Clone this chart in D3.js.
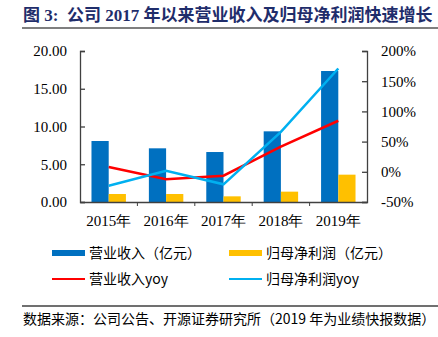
<!DOCTYPE html>
<html><head><meta charset="utf-8">
<script src="https://cdn.jsdelivr.net/npm/d3@7/dist/d3.min.js"></script>
<style>
body{margin:0;background:#fff;}
svg{display:block;}
</style></head>
<body>
<svg id="c" width="438" height="337"></svg>
<script>
const years = ["2015年","2016年","2017年","2018年","2019年"];
const revenue = [8.08, 7.11, 6.62, 9.36, 17.35];
const profit = [1.06, 1.06, 0.75, 1.37, 3.62];
const revenueYoy = [7.9, -12.4, -6.4, 41.5, 84.5];
const profitYoy = [-23.0, 1.8, -20.7, 66.0, 171.0];
const leftTicks = [0, 5, 10, 15, 20];
const rightTicks = [-50, 0, 50, 100, 150, 200];
const seriesNames = ["营业收入（亿元）","归母净利润（亿元）","营业收入yoy","归母净利润yoy"];
const title = "图 3:  公司 2017 年以来营业收入及归母净利润快速增长";
const source = "数据来源：公司公告、开源证券研究所（2019 年为业绩快报数据）";

const colors = {rev:"#0070C0", prof:"#FFC000", revY:"#FF0000", profY:"#00B0F0"};
const serif = "'Liberation Serif','Times New Roman',serif";
const cjk = "'Noto Sans CJK SC','Liberation Serif',serif";
const axisColor = "#404040";

const svg = d3.select("#c");

// title
svg.append("text").attr("x",23).attr("y",21)
  .style("white-space","pre")
  .attr("font-family","'Liberation Serif','Noto Sans CJK SC',serif")
  .attr("font-weight","bold").attr("font-size",17).attr("fill","#1F2D6B")
  .text(title);
svg.append("line").attr("x1",22).attr("x2",438).attr("y1",28).attr("y2",28)
  .attr("stroke","#7f7f7f").attr("stroke-width",2);

const L = 80, R = 367, T = 51, B = 202;
const x = d3.scaleBand().domain(years).range([L,R]).paddingInner(0.4).paddingOuter(0.2);
const xs = d3.scaleBand().domain(["rev","prof"]).range([0,x.bandwidth()]);
const yL = d3.scaleLinear().domain([0,20]).range([B,T]);
const yR = d3.scaleLinear().domain([-50,200]).range([B,T]);

// bars
const g = svg.append("g");
g.selectAll(".rb").data(revenue).join("rect")
  .attr("x",(d,i)=>x(years[i])+xs("rev")).attr("width",xs.bandwidth())
  .attr("y",d=>yL(d)).attr("height",d=>yL(0)-yL(d)).attr("fill",colors.rev);
g.selectAll(".pb").data(profit).join("rect")
  .attr("x",(d,i)=>x(years[i])+xs("prof")).attr("width",xs.bandwidth())
  .attr("y",d=>yL(d)).attr("height",d=>yL(0)-yL(d)).attr("fill",colors.prof);

// axes
const la = svg.append("g").attr("transform",`translate(${L},0)`)
  .call(d3.axisLeft(yL).tickValues(leftTicks).tickFormat(d3.format(".2f")).tickSize(-5).tickPadding(13));
const ra = svg.append("g").attr("transform",`translate(${R},0)`)
  .call(d3.axisRight(yR).tickValues(rightTicks).tickFormat(d=>d+"%").tickSize(-5).tickPadding(14));
[la,ra].forEach(a=>{
  a.select(".domain").attr("stroke",axisColor).attr("stroke-width",1.3);
  a.selectAll(".tick line").attr("stroke",axisColor).attr("stroke-width",1.3);
  a.selectAll("text").attr("font-family",serif).attr("font-size",15).attr("fill","#000");
});
const ba = svg.append("g").attr("transform",`translate(0,${B})`)
  .call(d3.axisBottom(x).tickSize(0).tickPadding(13));
ba.select(".domain").attr("stroke",axisColor).attr("stroke-width",1.3);
ba.selectAll("text").attr("font-family",serif).attr("font-size",15).attr("fill","#000");
// category boundary ticks
const bounds = years.slice(1).map(y=>x(y)-x.step()*x.paddingInner()/2);
ba.selectAll(".bt").data(bounds).join("line")
  .attr("x1",d=>d).attr("x2",d=>d).attr("y1",0).attr("y2",4)
  .attr("stroke",axisColor).attr("stroke-width",1);

// lines
const line = d3.line().x((d,i)=>x(years[i])+x.bandwidth()/2).y(d=>yR(d));
svg.append("path").datum(revenueYoy).attr("d",line).attr("fill","none")
  .attr("stroke",colors.revY).attr("stroke-width",2.5);
svg.append("path").datum(profitYoy).attr("d",line).attr("fill","none")
  .attr("stroke",colors.profY).attr("stroke-width",2.5);

// legend
const leg = [
  {x:52,y:253,type:"rect",c:colors.rev,t:seriesNames[0]},
  {x:229,y:253,type:"rect",c:colors.prof,t:seriesNames[1]},
  {x:52,y:279,type:"line",c:colors.revY,t:seriesNames[2]},
  {x:229,y:279,type:"line",c:colors.profY,t:seriesNames[3]}
];
leg.forEach(l=>{
  if(l.type==="rect") svg.append("rect").attr("x",l.x).attr("y",l.y-3).attr("width",33).attr("height",6).attr("fill",l.c);
  else svg.append("line").attr("x1",l.x).attr("x2",l.x+33).attr("y1",l.y).attr("y2",l.y).attr("stroke",l.c).attr("stroke-width",2);
  svg.append("text").attr("x",l.x+37).attr("y",l.y).attr("dy","0.35em")
    .attr("font-family",cjk).attr("font-size",14).attr("fill","#000").text(l.t);
});

// footer
svg.append("line").attr("x1",22).attr("x2",438).attr("y1",306).attr("y2",306)
  .attr("stroke","#404040").attr("stroke-width",1.3);
svg.append("text").attr("x",23).attr("y",319).attr("dy","0.35em")
  .attr("font-family",cjk).attr("font-size",14).attr("fill","#000")
  .text(source);
</script>
</body></html>
